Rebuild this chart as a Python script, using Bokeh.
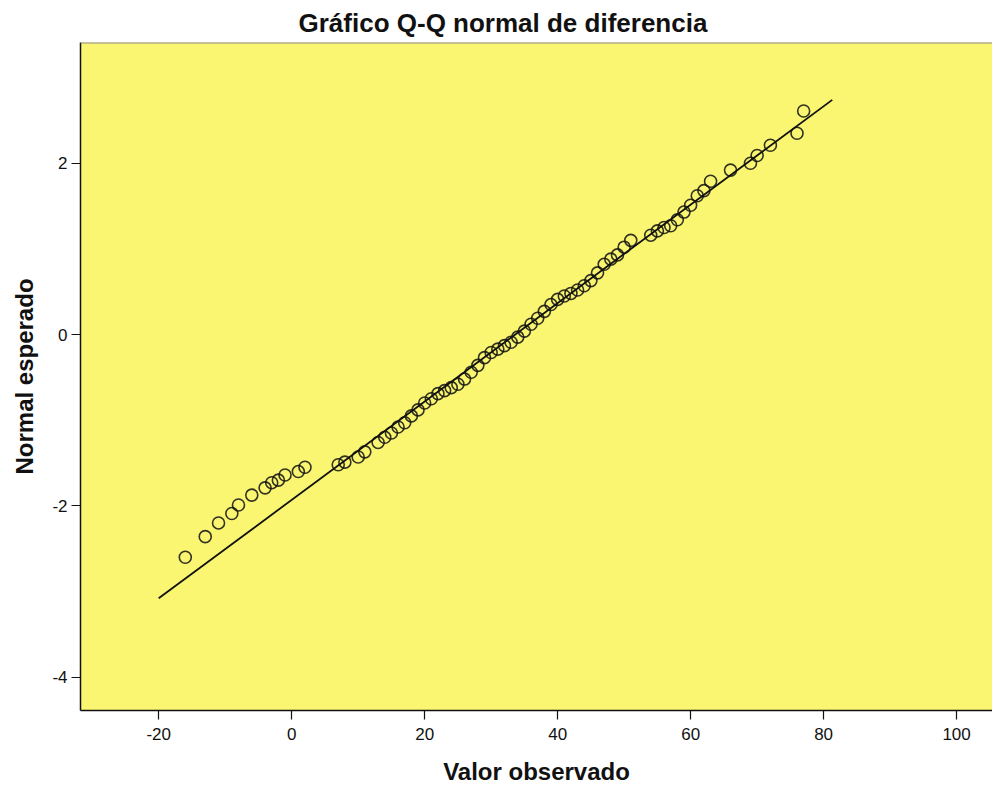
from bokeh.plotting import figure
from bokeh.models import ColumnDataSource, Span, FixedTicker
from bokeh.embed import file_html
from bokeh.resources import INLINE

observed = [-16, -13, -11, -9, -8, -6, -4, -3, -2, -1, 1, 2, 7, 8, 10, 11,
            13, 14, 15, 16, 17, 18, 19, 20, 21, 22, 23, 24, 25, 26, 27, 28,
            29, 30, 31, 32, 33, 34, 35, 36, 37, 38, 39, 40, 41, 42, 43, 44,
            45, 46, 47, 48, 49, 50, 51, 54, 55, 56, 57, 58, 59, 60, 61, 62,
            63, 66, 69, 70, 72, 76, 77]
expected = [-2.60, -2.36, -2.20, -2.09, -1.99, -1.875, -1.79, -1.73, -1.70, -1.64,
            -1.60, -1.55, -1.52, -1.49, -1.43, -1.37,
            -1.26, -1.20, -1.15, -1.08, -1.03, -0.95, -0.88, -0.80, -0.75, -0.69,
            -0.655, -0.62, -0.58, -0.52, -0.44, -0.36,
            -0.27, -0.21, -0.17, -0.13, -0.09, -0.03, 0.04, 0.12, 0.19, 0.27,
            0.35, 0.41, 0.45, 0.48, 0.52, 0.57,
            0.63, 0.72, 0.82, 0.88, 0.93, 1.02, 1.10, 1.16, 1.21, 1.25, 1.27,
            1.34, 1.43, 1.51, 1.62, 1.68,
            1.79, 1.92, 2.00, 2.09, 2.21, 2.35, 2.61]

# Reference normal line end points
line_x = [-20.0, 81.3]
line_y = [-3.08, 2.74]

x_ticks = [-20, 0, 20, 40, 60, 80, 100]
y_ticks = [-4, -2, 0, 2]

title_text = "Gráfico Q-Q normal de diferencia"
x_label = "Valor observado"
y_label = "Normal esperado"

FONT = "Liberation Sans"
BG = "#FAF672"

p = figure(width=992, height=795, output_backend="svg", toolbar_location=None,
           x_range=(-31.76, 105.4), y_range=(-4.39, 3.41),
           title=title_text,
           min_border_left=80, min_border_right=0, min_border_top=42,
           min_border_bottom=85)

p.background_fill_color = BG
p.border_fill_color = "white"
p.outline_line_color = None
p.xgrid.visible = False
p.ygrid.visible = False

p.title.text_font = FONT
p.title.text_font_size = "26px"
p.title.text_font_style = "bold"
p.title.text_color = "#111111"
p.title.align = "left"
p.title.offset = 218
p.title.standoff = 10

for ax in (p.xaxis[0], p.yaxis[0]):
    ax.axis_line_color = "#111111"
    ax.axis_line_width = 1.5
    ax.major_tick_line_color = "#111111"
    ax.major_tick_line_width = 1.2
    ax.major_tick_in = 0
    ax.major_tick_out = 9
    ax.minor_tick_line_color = None
    ax.major_label_text_font = FONT
    ax.major_label_text_font_size = "17px"
    ax.major_label_text_color = "#111111"
    ax.axis_label_text_font = FONT
    ax.axis_label_text_font_size = "24px"
    ax.axis_label_text_font_style = "bold"
    ax.axis_label_text_color = "#111111"

p.xaxis.ticker = FixedTicker(ticks=x_ticks)
p.yaxis.ticker = FixedTicker(ticks=y_ticks)
p.xaxis.major_label_overrides = {t: str(t) for t in x_ticks}
p.yaxis.major_label_overrides = {t: str(t) for t in y_ticks}
p.xaxis.axis_label = x_label
p.yaxis.axis_label = y_label
p.xaxis.major_label_standoff = 8
p.xaxis.axis_label_standoff = 15
p.yaxis.major_label_standoff = 4
p.yaxis.axis_label_standoff = 11

# top border of the plot area
p.add_layout(Span(location=3.41, dimension="width", line_color="#8a8a8a", line_width=2))

p.line(line_x, line_y, line_color="#111111", line_width=1.8)

src = ColumnDataSource(data=dict(x=observed, y=expected))
p.scatter("x", "y", source=src, marker="circle", size=12,
          fill_color=None, line_color="#111111", line_width=1.6, line_alpha=0.85)

open("out.html", "w").write(file_html(p, INLINE))
